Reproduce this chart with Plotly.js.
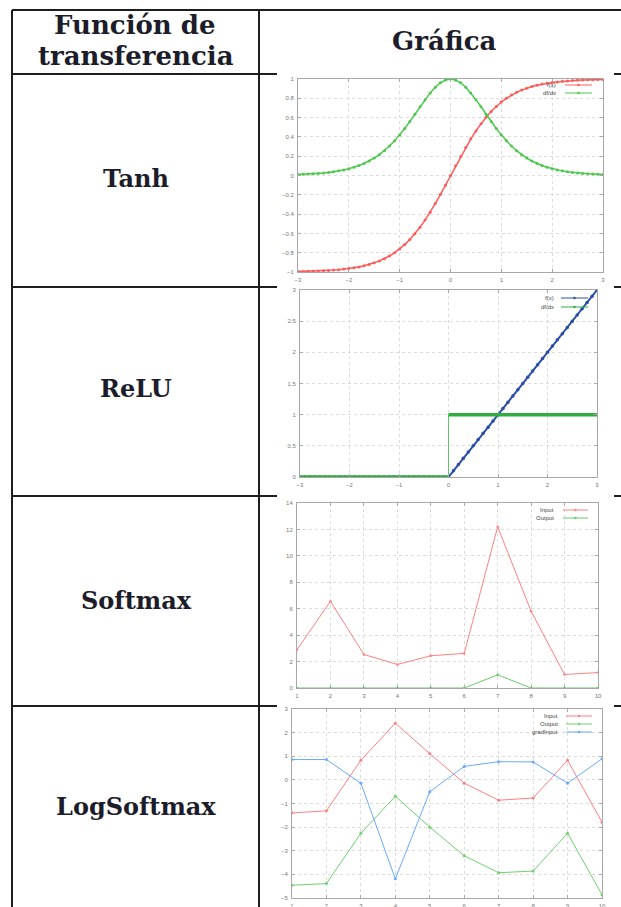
<!DOCTYPE html>
<html><head><meta charset="utf-8">
<script src="https://cdn.plot.ly/plotly-3.0.1.min.js"></script>
<style>html,body{margin:0;padding:0;background:#fff;}#chart{width:621px;height:907px;}</style>
</head><body><div id="chart"></div>
<script>
// ---------- data ----------
const rowLabels = ["Tanh", "ReLU", "Softmax", "LogSoftmax"];
const headerLeft = ["Función de", "transferencia"];
const headerRight = "Gráfica";

const tanhX = [-3,-2.9,-2.8,-2.7,-2.6,-2.5,-2.4,-2.3,-2.2,-2.1,-2,-1.9,-1.8,-1.7,-1.6,-1.5,-1.4,-1.3,-1.2,-1.1,-1,-0.9,-0.8,-0.7,-0.6,-0.5,-0.4,-0.3,-0.2,-0.1,0,0.1,0.2,0.3,0.4,0.5,0.6,0.7,0.8,0.9,1,1.1,1.2,1.3,1.4,1.5,1.6,1.7,1.8,1.9,2,2.1,2.2,2.3,2.4,2.5,2.6,2.7,2.8,2.9,3];
const tanhF = [-0.995,-0.994,-0.993,-0.991,-0.989,-0.987,-0.984,-0.980,-0.976,-0.970,-0.964,-0.956,-0.947,-0.935,-0.922,-0.905,-0.885,-0.862,-0.834,-0.800,-0.762,-0.716,-0.664,-0.604,-0.537,-0.462,-0.380,-0.291,-0.197,-0.100,0,0.100,0.197,0.291,0.380,0.462,0.537,0.604,0.664,0.716,0.762,0.800,0.834,0.862,0.885,0.905,0.922,0.935,0.947,0.956,0.964,0.970,0.976,0.980,0.984,0.987,0.989,0.991,0.993,0.994,0.995];
const tanhD = [0.010,0.012,0.015,0.018,0.022,0.027,0.032,0.039,0.048,0.058,0.071,0.086,0.104,0.125,0.150,0.181,0.216,0.257,0.305,0.359,0.420,0.487,0.559,0.635,0.712,0.786,0.856,0.915,0.961,0.990,1.000,0.990,0.961,0.915,0.856,0.786,0.712,0.635,0.559,0.487,0.420,0.359,0.305,0.257,0.216,0.181,0.150,0.125,0.104,0.086,0.071,0.058,0.048,0.039,0.032,0.027,0.022,0.018,0.015,0.012,0.010];

const reluX = tanhX;
const reluF = [0,0,0,0,0,0,0,0,0,0,0,0,0,0,0,0,0,0,0,0,0,0,0,0,0,0,0,0,0,0,0,0.1,0.2,0.3,0.4,0.5,0.6,0.7,0.8,0.9,1,1.1,1.2,1.3,1.4,1.5,1.6,1.7,1.8,1.9,2,2.1,2.2,2.3,2.4,2.5,2.6,2.7,2.8,2.9,3];
// derivative: flat at 0 for x<0, step at x=0, flat at 1 for x>0
const reluDLowX = [-3, 0];
const reluDLowY = [0, 0];
const reluDStepX = [0, 0];
const reluDStepY = [0, 1];
const reluDHighX = [0, 3];
const reluDHighY = [1, 1];

const idx = [1,2,3,4,5,6,7,8,9,10];
const smInput  = [2.9, 6.56, 2.54, 1.78, 2.44, 2.62, 12.2, 5.8, 1.02, 1.17];
const smOutput = [0, 0.003, 0, 0, 0, 0, 0.996, 0.001, 0, 0];

const lsInput  = [-1.40, -1.31, 0.83, 2.40, 1.11, -0.14, -0.86, -0.77, 0.83, -1.79];
const lsOutput = [-4.46, -4.39, -2.26, -0.69, -2.00, -3.21, -3.93, -3.86, -2.26, -4.86];
const lsGrad   = [0.86, 0.86, -0.14, -4.19, -0.50, 0.57, 0.77, 0.76, -0.14, 0.89];

const tanhYTicks = [-1,-0.8,-0.6,-0.4,-0.2,0,0.2,0.4,0.6,0.8,1];
const xTicks3 = [-3,-2,-1,0,1,2,3];
const reluYTicks = [0,0.5,1,1.5,2,2.5,3];
const smYTicks = [0,2,4,6,8,10,12,14];
const lsYTicks = [-5,-4,-3,-2,-1,0,1,2,3];

// ---------- layout helpers ----------
const W = 621, H = 907;
const px = x => x / W;
const py = y => 1 - y / H;

const RED = "#ff5a5a", GREEN = "#4cc94c";
const RBLUE = "#2a4fa8", RGREEN = "#2fae3f";
const tickFont = {family: "Liberation Sans, Arial, sans-serif", size: 6, color: "#777"};

function axis(domain, range, tickvals, extra) {
  return Object.assign({
    domain: domain, range: range, tickmode: "array", tickvals: tickvals,
    showgrid: true, gridcolor: "#dcdcdc", griddash: "dot", gridwidth: 1,
    zeroline: false, showline: true, linecolor: "#a8a8a8", linewidth: 1,
    mirror: "allticks", ticks: "inside", ticklen: 3, tickcolor: "#a8a8a8",
    tickfont: tickFont, fixedrange: true, ticklabelstandoff: 2
  }, extra || {});
}

const traces = [
  {x: tanhX, y: tanhF, xaxis: "x", yaxis: "y", mode: "lines+markers", line: {color: RED, width: 1.5}, marker: {color: RED, size: 3}},
  {x: tanhX, y: tanhD, xaxis: "x", yaxis: "y", mode: "lines+markers", line: {color: GREEN, width: 1.5}, marker: {color: GREEN, size: 3}},
  {x: reluX, y: reluF, xaxis: "x2", yaxis: "y2", mode: "lines+markers", line: {color: RBLUE, width: 2}, marker: {color: RBLUE, size: 3.5}},
  {x: reluDLowX, y: reluDLowY, xaxis: "x2", yaxis: "y2", mode: "lines", line: {color: RGREEN, width: 3.5}},
  {x: reluDStepX, y: reluDStepY, xaxis: "x2", yaxis: "y2", mode: "lines", line: {color: "#5cc46a", width: 1}},
  {x: reluDHighX, y: reluDHighY, xaxis: "x2", yaxis: "y2", mode: "lines", line: {color: RGREEN, width: 3.5}},
  {x: idx, y: smInput, xaxis: "x3", yaxis: "y3", mode: "lines+markers", line: {color: "#ff8080", width: 1}, marker: {color: "#ff8080", size: 2.5}},
  {x: idx, y: smOutput, xaxis: "x3", yaxis: "y3", mode: "lines+markers", line: {color: "#66cc66", width: 1}, marker: {color: "#66cc66", size: 2.5}},
  {x: idx, y: lsInput, xaxis: "x4", yaxis: "y4", mode: "lines+markers", line: {color: "#ff8080", width: 1}, marker: {color: "#ff8080", size: 3}},
  {x: idx, y: lsOutput, xaxis: "x4", yaxis: "y4", mode: "lines+markers", line: {color: "#70d070", width: 1}, marker: {color: "#70d070", size: 3}},
  {x: idx, y: lsGrad, xaxis: "x4", yaxis: "y4", mode: "lines+markers", line: {color: "#66aaff", width: 1}, marker: {color: "#66aaff", size: 3}}
];

const layout = {
  width: W, height: H, margin: {l: 0, r: 0, t: 0, b: 0},
  paper_bgcolor: "#fff", plot_bgcolor: "#fff", showlegend: false,
  xaxis:  axis([px(298), px(603)], [-3, 3], xTicks3, {anchor: "y"}),
  yaxis:  axis([py(272), py(79)], [-1, 1], tanhYTicks, {anchor: "x"}),
  xaxis2: axis([px(300), px(597)], [-3, 3], xTicks3, {anchor: "y2"}),
  yaxis2: axis([py(477), py(290)], [0, 3], reluYTicks, {anchor: "x2"}),
  xaxis3: axis([px(297), px(598)], [1, 10], idx, {anchor: "y3"}),
  yaxis3: axis([py(688), py(503)], [0, 14], smYTicks, {anchor: "x3"}),
  xaxis4: axis([px(292), px(602)], [1, 10], idx, {anchor: "y4"}),
  yaxis4: axis([py(898), py(709)], [-5, 3], lsYTicks, {anchor: "x4"}),
  shapes: [], annotations: []
};

// table lines
const lineStyle = {color: "#1e1e1e", width: 2};
function seg(x0, y0, x1, y1) {
  layout.shapes.push({type: "line", xref: "paper", yref: "paper", x0: px(x0), y0: py(y0), x1: px(x1), y1: py(y1), line: lineStyle, layer: "above"});
}
seg(12, 10, 621, 10);
seg(12, 10, 12, 907);
seg(259, 10, 259, 907);
[74, 287, 496, 706].forEach(y => { seg(12, y, 277, y); seg(614, y, 621, y); });

// header and row texts
const headFont = {family: "DejaVu Serif, serif", size: 26, color: "#1c1c2a", weight: "bold"};
const rowFont = {family: "DejaVu Serif, serif", size: 24, color: "#1c1c2a", weight: "bold"};
function txt(text, x, y, font, anchor) {
  layout.annotations.push({text: text, xref: "paper", yref: "paper", x: px(x), y: py(y),
    xanchor: anchor || "center", yanchor: "middle", showarrow: false, font: font});
}
txt("<b>" + headerLeft[0] + "</b>", 135, 25, headFont);
txt("<b>" + headerLeft[1] + "</b>", 136, 56, headFont);
txt("<b>" + headerRight + "</b>", 444, 41, headFont);
const rowY = [179, 388, 600, 806];
rowLabels.forEach((l, i) => txt("<b>" + l + "</b>", 136, rowY[i], rowFont));

// legends (gnuplot style: text then sample)
const legFont = {family: "Liberation Sans, Arial, sans-serif", size: 6, color: "#444"};
function legend(items, textRight, s0, s1) {
  items.forEach(it => {
    txt(it.name, textRight, it.y, legFont, "right");
    layout.shapes.push({type: "line", xref: "paper", yref: "paper", x0: px(s0), x1: px(s1), y0: py(it.y), y1: py(it.y), line: {color: it.color, width: 1}});
    const cx = (s0 + s1) / 2;
    layout.shapes.push({type: "circle", xref: "paper", yref: "paper", x0: px(cx - 1.2), x1: px(cx + 1.2), y0: py(it.y + 1.2), y1: py(it.y - 1.2), line: {width: 0}, fillcolor: it.color});
  });
}
legend([{name: "f(x)", y: 85, color: RED}, {name: "df/dx", y: 93, color: GREEN}], 558, 565, 592);
legend([{name: "f(x)", y: 298, color: RBLUE}, {name: "df/dx", y: 307, color: RGREEN}], 556, 561, 588);
legend([{name: "Input", y: 510, color: "#ff8080"}, {name: "Output", y: 518, color: "#66cc66"}], 556, 563, 588);
legend([{name: "Input", y: 716, color: "#ff8080"}, {name: "Output", y: 724, color: "#70d070"}, {name: "gradInput", y: 732, color: "#66aaff"}], 560, 566, 592);

Plotly.newPlot("chart", traces, layout, {staticPlot: true, displayModeBar: false});
</script></body></html>
